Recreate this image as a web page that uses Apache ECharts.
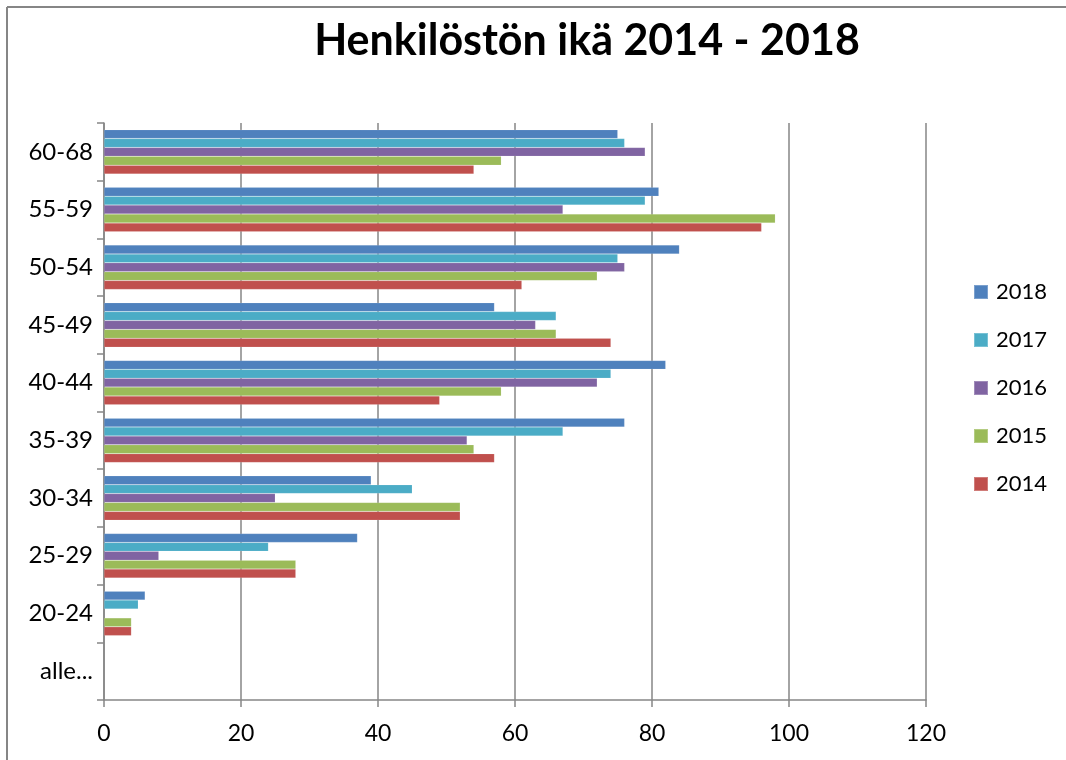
<!DOCTYPE html>
<html>
<head>
<meta charset="utf-8">
<script src="https://cdn.jsdelivr.net/npm/echarts@6/dist/echarts.min.js"></script>
<style>
  html, body { margin: 0; padding: 0; background: #ffffff; }
  #chart { width: 1066px; height: 760px; }
</style>
</head>
<body>
<div id="chart"></div>
<script>
// Age groups, bottom to top on the category axis
const ageGroups = ['alle...', '20-24', '25-29', '30-34', '35-39', '40-44', '45-49', '50-54', '55-59', '60-68'];

// Headcount per age group and year (null = no staff in that group)
const y2014 = [null, 4, 28, 52, 57, 49, 74, 61, 96, 54];
const y2015 = [null, 4, 28, 52, 54, 58, 66, 72, 98, 58];
const y2016 = [null, null, 8, 25, 53, 72, 63, 76, 67, 79];
const y2017 = [null, 5, 24, 45, 67, 74, 66, 75, 79, 76];
const y2018 = [null, 6, 37, 39, 76, 82, 57, 84, 81, 75];

// Newest year first so it sits at the top of each group
const years = ['2018', '2017', '2016', '2015', '2014'];
const yearValues = [y2018, y2017, y2016, y2015, y2014];
const yearColors = ['#4F81BD', '#4BACC6', '#8064A2', '#9BBB59', '#C0504D'];

const FONT = 'Lato, "Open Sans", sans-serif';
const chart = echarts.init(document.getElementById('chart'));

chart.setOption({
  animation: false,
  backgroundColor: '#ffffff',
  title: {
    text: 'Henkilöstön ikä 2014 - 2018',
    left: 582,
    top: 15,
    textAlign: 'center',
    textStyle: { fontFamily: FONT, fontWeight: 'bold', fontSize: 43, color: '#000000' }
  },
  legend: {
    orient: 'vertical',
    left: 968,
    top: 276,
    itemWidth: 14,
    itemHeight: 14,
    itemGap: 26,
    icon: 'rect',
    data: years,
    textStyle: { fontFamily: FONT, fontSize: 22, color: '#000000', padding: [0, 0, 0, 3] }
  },
  grid: { left: 104, right: 140, top: 123, bottom: 60, containLabel: false },
  xAxis: {
    type: 'value',
    min: 0,
    max: 120,
    interval: 20,
    axisLine: { show: true, lineStyle: { color: '#868686', width: 1.5 } },
    axisTick: { show: true, length: 7, lineStyle: { color: '#868686', width: 1.5 } },
    axisLabel: { fontFamily: FONT, fontSize: 23, color: '#000000', margin: 22 },
    splitLine: { show: true, lineStyle: { color: '#868686', width: 1.5 } }
  },
  yAxis: {
    type: 'category',
    data: ageGroups,
    axisLine: { show: true, lineStyle: { color: '#868686', width: 1.5 } },
    axisTick: { show: true, length: 7, alignWithLabel: false, lineStyle: { color: '#868686', width: 1.5 } },
    axisLabel: { fontFamily: FONT, fontSize: 24, color: '#000000', margin: 11 },
    splitLine: { show: false }
  },
  series: years.map((name, i) => ({
    name: name,
    type: 'bar',
    data: yearValues[i],
    barGap: '0%',
    barCategoryGap: '23%',
    itemStyle: { color: yearColors[i], borderColor: 'rgba(255,255,255,0.25)', borderWidth: 0.5 }
  })),
  graphic: [
    { type: 'line', shape: { x1: 7, y1: 7, x2: 1066, y2: 7 }, style: { stroke: '#868686', lineWidth: 2 } },
    { type: 'line', shape: { x1: 7, y1: 7, x2: 7, y2: 760 }, style: { stroke: '#868686', lineWidth: 2 } }
  ]
});
</script>
</body>
</html>
